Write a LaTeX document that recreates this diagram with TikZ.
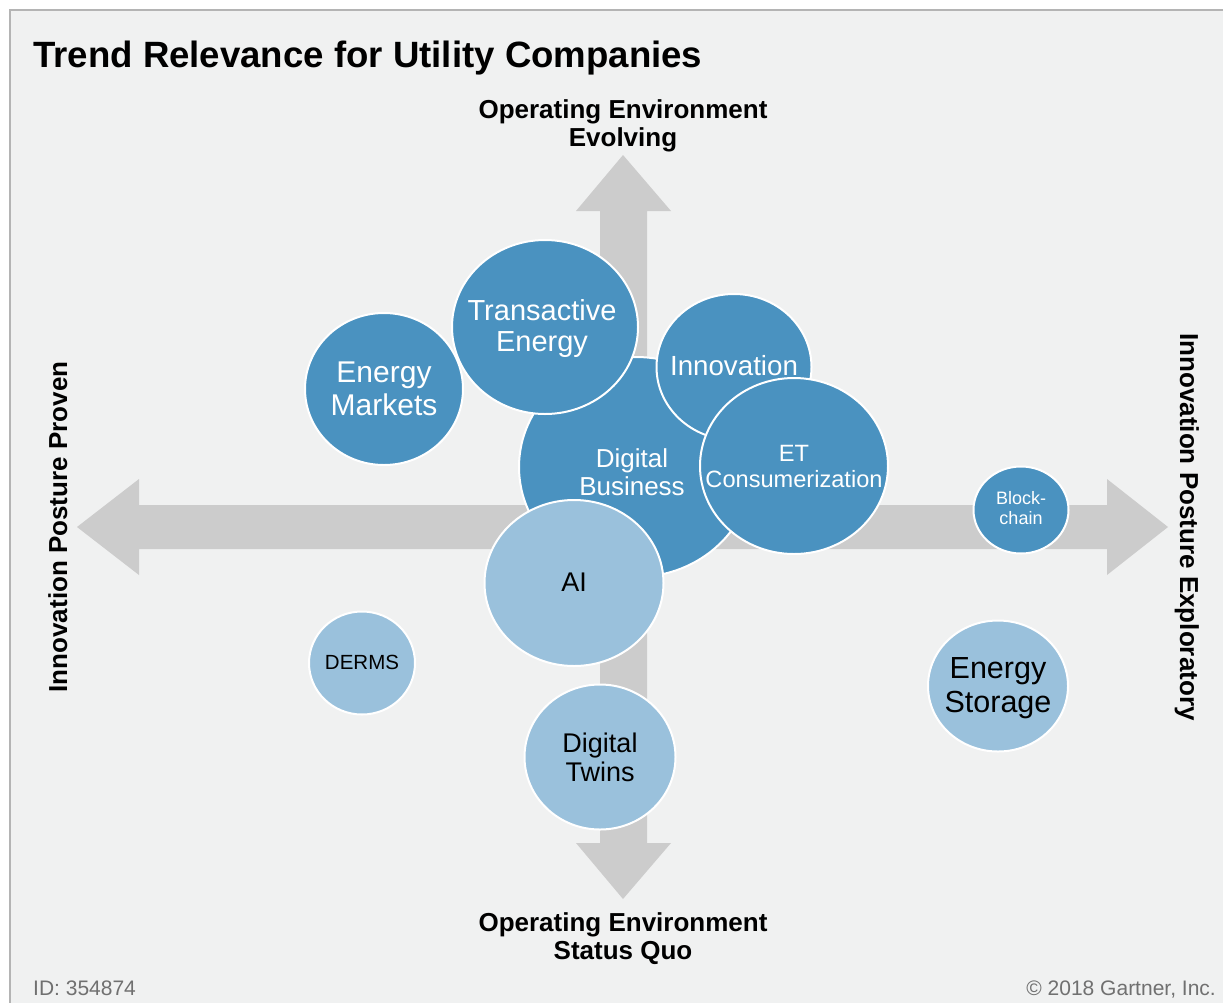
\documentclass[tikz,border=0pt]{standalone}
\usepackage{fontspec}
\setmainfont{Liberation Sans}
\usetikzlibrary{shapes.geometric}
\definecolor{bg}{HTML}{F0F1F1}
\definecolor{framegray}{HTML}{B4B4B4}
\definecolor{axisgray}{HTML}{CCCCCC}
\definecolor{bubdark}{HTML}{4A92C0}
\definecolor{bublight}{HTML}{9AC1DC}
\definecolor{footgray}{HTML}{707070}
\begin{document}
\begin{tikzpicture}[x=1pt,y=-1pt,
  bubble/.style={ellipse, draw=white, line width=2pt, inner sep=0pt},
  darkbub/.style={bubble, fill=bubdark},
  lightbub/.style={bubble, fill=bublight},
  wlabel/.style={text=white, align=center, inner sep=0pt},
  blabel/.style={text=black, align=center, inner sep=0pt},
  axislabel/.style={font=\bfseries\fontsize{26}{28}\selectfont, align=center, inner sep=0pt},
  footer/.style={text=footgray, font=\fontsize{21}{24}\selectfont, inner sep=0pt},
]
\useasboundingbox (0,0) rectangle (1223,1002);
\clip (0,0) rectangle (1223,1002);
\fill[white] (0,0) rectangle (1223,1002);
\draw[framegray, fill=bg, line width=1.5pt] (10,10) rectangle (1240,1020);

% title
\node[anchor=base west, font=\bfseries\fontsize{36.6}{40}\selectfont, inner sep=0pt] (title) at (33,67) {Trend Relevance for Utility Companies};

% axes
\fill[axisgray] (77,527) -- (139,479) -- (139,505) -- (1107,505) -- (1107,479) -- (1168,527)
  -- (1107,575) -- (1107,549) -- (139,549) -- (139,575) -- cycle;
\fill[axisgray] (623,155) -- (671,211) -- (647,211) -- (647,843) -- (671,843) -- (623,899)
  -- (576,843) -- (600,843) -- (600,211) -- (576,211) -- cycle;

\node[axislabel] (top) at (623,125.5) {Operating Environment\\Evolving};
\node[axislabel] (bottom) at (623,939) {Operating Environment\\Status Quo};
\node[axislabel, rotate=90, anchor=base] (left) at (67,527) {Innovation Posture Proven};
\node[axislabel, rotate=-90, anchor=base] (right) at (1180,527) {Innovation Posture Exploratory};

% bubbles
\node[darkbub, minimum width=234pt, minimum height=220pt] (db) at (636,467) {};
\node[wlabel, font=\fontsize{26}{28}\selectfont] (db-t) at (632,472) {Digital\\Business};

\node[darkbub, minimum width=186pt, minimum height=174pt] (te) at (545,327) {};
\node[wlabel, font=\fontsize{29}{31}\selectfont] (te-t) at (542,328.5) {Transactive\\Energy};

\node[darkbub, minimum width=158pt, minimum height=152pt] (em) at (384,389) {};
\node[wlabel, font=\fontsize{30}{33}\selectfont] (em-t) at (384,389) {Energy\\Markets};

\node[darkbub, minimum width=155pt, minimum height=146pt] (inn) at (734,367) {};
\node[wlabel, font=\fontsize{27.7}{30}\selectfont] (inn-t) at (734,366) {Innovation};

\node[darkbub, minimum width=188pt, minimum height=176pt] (et) at (794,466) {};
\node[wlabel, font=\fontsize{23.6}{26}\selectfont] (et-t) at (794,466) {ET\\Consumerization};

\node[darkbub, minimum width=95pt, minimum height=87pt] (bc) at (1021,510) {};
\node[wlabel, font=\fontsize{18}{20}\selectfont] (bc-t) at (1021,508) {Block-\\chain};

\node[lightbub, minimum width=179pt, minimum height=166pt] (ai) at (574,583) {};
\node[blabel, font=\fontsize{27}{30}\selectfont] (ai-t) at (574,582) {AI};

\node[lightbub, minimum width=106pt, minimum height=103pt] (derms) at (362,663) {};
\node[blabel, font=\fontsize{20.5}{23}\selectfont] (derms-t) at (362,662) {DERMS};

\node[lightbub, minimum width=140pt, minimum height=131pt] (es) at (998,686) {};
\node[blabel, font=\fontsize{30.5}{34}\selectfont] (es-t) at (998,688) {Energy\\Storage};

\node[lightbub, minimum width=151pt, minimum height=145pt] (dt) at (600,757) {};
\node[blabel, font=\fontsize{27}{29}\selectfont] (dt-t) at (600,757) {Digital\\Twins};

% footer
\node[footer, anchor=base west] (id) at (33,995) {ID: 354874};
\node[footer, anchor=base east] (copy) at (1216,995) {© 2018 Gartner, Inc.};
\end{tikzpicture}
\end{document}
